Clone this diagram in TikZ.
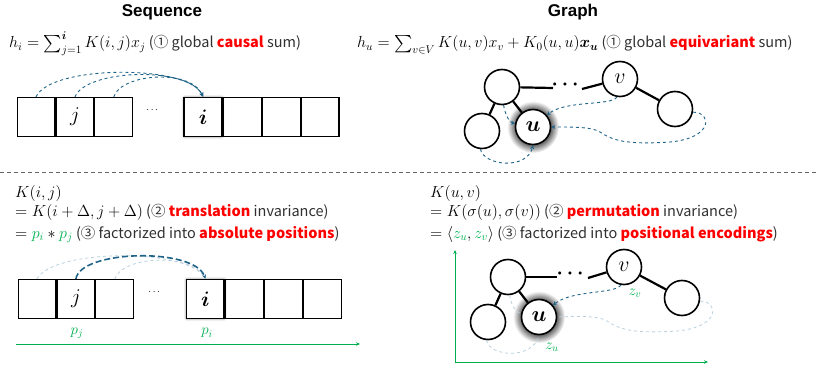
\RequirePackage{fix-cm}
\documentclass[tikz,border=0pt]{standalone}
\usepackage{amsmath}
\usepackage{bm}
\usepackage{fontspec}
\newfontfamily\bodyfont{Noto Sans CJK SC}
\newfontfamily\titlefont{Liberation Sans}
\usetikzlibrary{positioning,arrows.meta,shadows.blur}
\definecolor{flowblue}{HTML}{1F6488}
\definecolor{flowpale}{HTML}{BACFDC}
\definecolor{posgreen}{HTML}{00B050}
\definecolor{hlred}{HTML}{FF0000}
\definecolor{inkgray}{HTML}{303030}
\newcommand{\hl}[1]{\textcolor{hlred}{\textbf{#1}}}
\newcommand{\pos}[1]{\textcolor{posgreen}{#1}}
\newcommand{\mx}[1]{{\fontsize{16}{18}\selectfont\color{black}$#1$}}
\pgfdeclareradialshading{uglow}{\pgfpoint{0bp}{0bp}}{color(0bp)=(black!65);
  color(16.5bp)=(black!65); color(25bp)=(white); color(50bp)=(white)}

\begin{document}
\begin{tikzpicture}[x=1pt, y=-1pt,
  cell/.style={draw, line width=1.1pt, minimum width=37.8pt, minimum height=39pt,
               inner sep=0pt, font=\fontsize{21}{24}\selectfont},
  focus/.style={cell, line width=1.8pt, fill=white,
                blur shadow={shadow xshift=0pt, shadow yshift=0pt,
                             shadow blur radius=2.5pt, shadow opacity=60}},
  gnode/.style={circle, draw, line width=1.6pt, minimum size=35pt, inner sep=0pt,
                fill=white, font=\fontsize{22}{24}\selectfont},
  glow/.style={shading=uglow},
  gedge/.style={line width=2.2pt},
  txt/.style={anchor=base west, inner sep=0pt, text=inkgray,
              font=\bodyfont\fontsize{14.5}{16}\selectfont},
  head/.style={font=\titlefont\bfseries\fontsize{17}{20}\selectfont},
  flow/.style={draw=flowblue, dashed, line width=0.9pt, -{Stealth[length=4pt,width=4pt]}},
  faint/.style={draw=flowpale, dashed, line width=0.8pt},
  axis/.style={draw=posgreen, line width=0.9pt, -{Stealth[length=4pt,width=3.5pt]}},
  lab/.style={inner sep=0pt, font=\fontsize{15}{17}\selectfont},
  gdots/.style={font=\fontsize{20}{20}\selectfont, inner sep=0pt}
]
\useasboundingbox (0,0) rectangle (817,369);

% titles and formulas
\node[head] (seqhead) at (162,12) {Sequence};
\node[head] (graphhead) at (573,12) {Graph};
\node[txt] (seqsum) at (9,48)
  {\mx{h_i=\sum_{j=1}^{\boldsymbol{i}}K(i,j)x_j} (① global \hl{causal} sum)};
\node[txt] (graphsum) at (357,48)
  {\mx{h_u=\sum_{v\in V}K(u,v)x_v+K_0(u,u)\boldsymbol{x_u}} (① global \hl{equivariant} sum)};

% sequence, top
\node[cell] (t1) at (36,117) {};
\node[cell, right=0pt of t1] (t2) {$j$};
\node[cell, right=0pt of t2] (t3) {};
\node (tdots) at (153,110) {$\cdots$};
\node[focus] (ti) at (203,117) {$\boldsymbol{i}$};
\node[cell, right=0pt of ti] (t5) {};
\node[cell, right=0pt of t5] (t6) {};
\node[cell, right=0pt of t6] (t7) {};
\draw[flow] (t1.north) .. controls (50,65) and (188,64) .. (ti.north);
\draw[flow] (t2.north) .. controls (86,69) and (188,66) .. (ti.north);
\draw[flow] (t3.north) .. controls (120,74) and (190,68) .. (ti.north);

% graph, top
\coordinate (gucen) at (533,127);
\shade[glow] (gucen) circle (26pt);
\node[gnode] (ga) at (502,87) {};
\node[gnode] (gv) at (620,79) {$v$};
\node[gnode] (gb) at (482,131) {};
\node[gnode] (gu) at (gucen) {$\boldsymbol{u}$};
\node[gnode] (gr) at (675,109) {};
\coordinate (gdl) at (553,88);
\coordinate (gdr) at (582,89);
\node[gdots] (gdd) at (567,85) {$\boldsymbol{\cdots}$};
\draw[gedge] (ga) -- (gdl);
\draw[gedge] (gdr) -- (gv);
\draw[gedge] (ga) -- (gb);
\draw[gedge] (ga) -- (gu);
\draw[gedge] (gv) -- (gr);
\draw[flow] (ga.275) .. controls (505,114) and (509,122) .. (gu.170);
\draw[flow] (gv.260) .. controls (612,106) and (565,100) .. (gu.40);
\draw[flow] (gr.-10) .. controls (712,112) and (714,138) .. (670,142)
  .. controls (625,145) and (612,140) .. (600,132)
  .. controls (592,127) and (575,127) .. (gu.east);
\draw[flow] (gb.-95) .. controls (484,166) and (527,170) .. (gu.south);

% separator
\coordinate (sepl) at (0,172);
\coordinate (sepr) at (817,172);
\draw[gray!80!black, line width=0.8pt, dash pattern=on 4pt off 3pt] (sepl) -- (sepr);

% kernels
\node[txt] (seqk0) at (15,197) {\mx{K(i,j)}};
\node[txt] (seqk1) at (15,216)
  {\mx{=K(i+\Delta,j+\Delta)} (② \hl{translation} invariance)};
\node[txt] (seqk2) at (15,238)
  {\mx{=\pos{p_i}*\pos{p_j}} (③ factorized into \hl{absolute positions})};
\node[txt] (graphk0) at (430,197) {\mx{K(u,v)}};
\node[txt] (graphk1) at (430,216)
  {\mx{=K(\sigma(u),\sigma(v))} (② \hl{permutation} invariance)};
\node[txt] (graphk2) at (430,238)
  {\mx{=\langle\pos{z_u},\pos{z_v}\rangle} (③ factorized into \hl{positional encodings})};

% sequence, bottom
\node[cell] (b1) at (37,299) {};
\node[cell, right=0pt of b1] (b2) {$j$};
\node[cell, right=0pt of b2] (b3) {};
\node (bdots) at (155,292) {$\cdots$};
\node[focus] (bi) at (205.4,299) {$\boldsymbol{i}$};
\node[cell, right=0pt of bi] (b5) {};
\node[cell, right=0pt of b5] (b6) {};
\node[cell, right=0pt of b6] (b7) {};
\draw[faint] (b1.north) .. controls (52,249) and (190,247) .. (bi.north);
\draw[faint] (b3.north) .. controls (122,256) and (192,252) .. (bi.north);
\draw[flow, line width=1.6pt, dash pattern=on 6pt off 3pt] (b2.north)
  .. controls (80,250) and (194,247) .. (bi.north);
\node[lab, text=posgreen] (pj) at (77,333) {$p_j$};
\node[lab, text=posgreen] (pi) at (207,333) {$p_i$};
\coordinate (seqaxl) at (16,344);
\coordinate (seqaxr) at (360,344);
\draw[axis] (seqaxl) -- (seqaxr);

% graph, bottom
\coordinate (gaxo) at (455,362);
\coordinate (gaxy) at (455,250);
\coordinate (gaxx) at (708,362);
\draw[axis] (gaxo) -- (gaxy);
\draw[axis] (gaxo) -- (gaxx);
\coordinate (hucen) at (539,317);
\shade[glow] (hucen) circle (26pt);
\node[gnode] (ha) at (508,277) {};
\node[gnode] (hv) at (624,267) {$v$};
\node[gnode] (hb) at (488,322) {};
\node[gnode] (hu) at (hucen) {$\boldsymbol{u}$};
\node[gnode] (hr) at (682,298) {};
\coordinate (hdl) at (557,277);
\coordinate (hdr) at (588,278);
\node[gdots] (hdd) at (572,274) {$\boldsymbol{\cdots}$};
\draw[gedge] (ha) -- (hdl);
\draw[gedge] (hdr) -- (hv);
\draw[gedge] (ha) -- (hb);
\draw[gedge] (ha) -- (hu);
\draw[gedge] (hv) -- (hr);
\draw[faint] (ha.275) .. controls (511,304) and (515,312) .. (hu.170);
\draw[flow] (hv.260) .. controls (616,294) and (571,290) .. (hu.40);
\draw[faint] (hr.-10) .. controls (719,301) and (721,327) .. (677,331)
  .. controls (632,334) and (619,329) .. (607,321)
  .. controls (599,316) and (582,316) .. (hu.east);
\draw[faint] (hb.-95) .. controls (490,357) and (533,360) .. (hu.south);
\node[lab, text=posgreen] (zv) at (635,293) {$z_v$};
\node[lab, text=posgreen] (zu) at (552,347) {$z_u$};
\end{tikzpicture}
\end{document}
